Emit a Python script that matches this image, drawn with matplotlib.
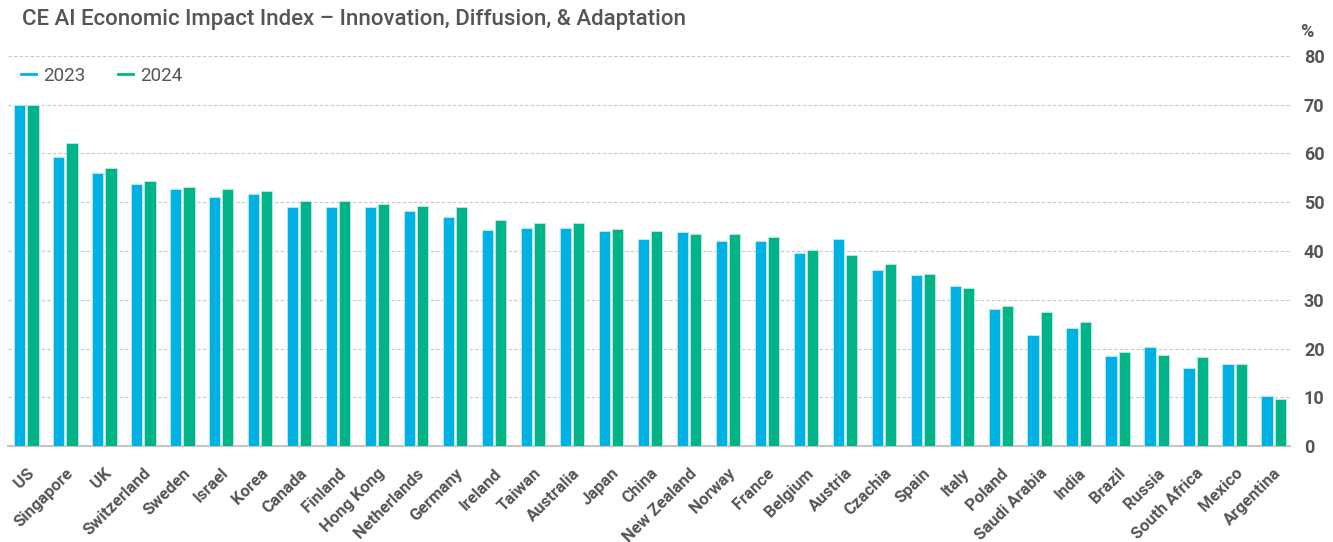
import numpy as np
import matplotlib
matplotlib.use('Agg')
import matplotlib.pyplot as plt
from matplotlib.lines import Line2D

countries = ['US', 'Singapore', 'UK', 'Switzerland', 'Sweden', 'Israel', 'Korea', 'Canada',
             'Finland', 'Hong Kong', 'Netherlands', 'Germany', 'Ireland', 'Taiwan', 'Australia',
             'Japan', 'China', 'New Zealand', 'Norway', 'France', 'Belgium', 'Austria', 'Czachia',
             'Spain', 'Italy', 'Poland', 'Saudi Arabia', 'India', 'Brazil', 'Russia',
             'South Africa', 'Mexico', 'Argentina']
val_2023 = [69.9, 59.2, 56.1, 53.8, 52.7, 51.1, 51.6, 49.1, 49.1, 49.1, 48.3, 46.9, 44.4, 44.7,
            44.7, 44.1, 42.4, 43.8, 42.1, 42.1, 39.5, 42.4, 36.2, 35.0, 32.9, 28.2, 22.7, 24.3,
            18.5, 20.3, 15.9, 16.8, 10.3]
val_2024 = [69.9, 62.2, 57.0, 54.3, 53.1, 52.7, 52.4, 50.2, 50.2, 49.6, 49.2, 49.0, 46.3, 45.7,
            45.7, 44.5, 44.1, 43.4, 43.4, 42.9, 40.2, 39.2, 37.4, 35.2, 32.4, 28.7, 27.4, 25.4,
            19.3, 18.7, 18.2, 16.8, 9.7]
yticks = [0, 10, 20, 30, 40, 50, 60, 70, 80]

BLUE = '#00b2e3'
GREEN = '#00b388'
TXT = '#555558'

plt.rcParams['font.family'] = ['Roboto', 'DejaVu Sans']

fig = plt.figure(figsize=(13.33, 5.42), dpi=100)
ax = fig.add_axes([8 / 1333, 96 / 542, 1282 / 1333, 390 / 542])

x = np.arange(len(countries))
w = 0.29
ax.bar(x - 0.17, val_2023, w, color=BLUE, edgecolor='#bfeaf7', linewidth=0.6, zorder=3)
ax.bar(x + 0.17, val_2024, w, color=GREEN, edgecolor='#bfeadd', linewidth=0.6, zorder=3)

ax.set_xlim(-0.47, len(countries) - 0.58)
ax.set_ylim(0, 80)
ax.set_yticks(yticks)
ax.yaxis.tick_right()
ax.tick_params(axis='y', length=0, pad=10, labelsize=13, labelcolor=TXT)
for lab in ax.get_yticklabels():
    lab.set_fontweight('bold')
ax.grid(axis='y', color='#c8c8c8', linestyle=(0, (3, 2)), linewidth=0.8, zorder=0)
for s in ['top', 'left', 'right']:
    ax.spines[s].set_visible(False)
ax.spines['bottom'].set_color('#c4c4c4')
ax.spines['bottom'].set_linewidth(1.5)

ax.set_xticks(x)
ax.set_xticklabels(countries, rotation=45, ha='right', rotation_mode='anchor',
                   fontsize=12, color=TXT, fontweight='bold')
ax.tick_params(axis='x', length=0, pad=14)

handles = [Line2D([], [], color=BLUE, lw=2), Line2D([], [], color=GREEN, lw=2)]
ax.legend(handles, ['2023', '2024'], loc='center left', bbox_to_anchor=(0.0, 0.949), ncol=2,
          frameon=False, handlelength=0.8, columnspacing=1.7, handletextpad=0.4,
          fontsize=13.5, labelcolor=TXT, borderaxespad=0.3)

fig.text(22 / 1333, 1 - 20 / 542, 'CE AI Economic Impact Index \u2013 Innovation, Diffusion, & Adaptation',
         fontsize=16, color=TXT, va='center', ha='left', fontweight='medium')
fig.text(1300 / 1333, 1 - 32 / 542, '%', fontsize=13, color=TXT, fontweight='bold',
         va='center', ha='left')

fig.savefig('out.png', dpi=100)
